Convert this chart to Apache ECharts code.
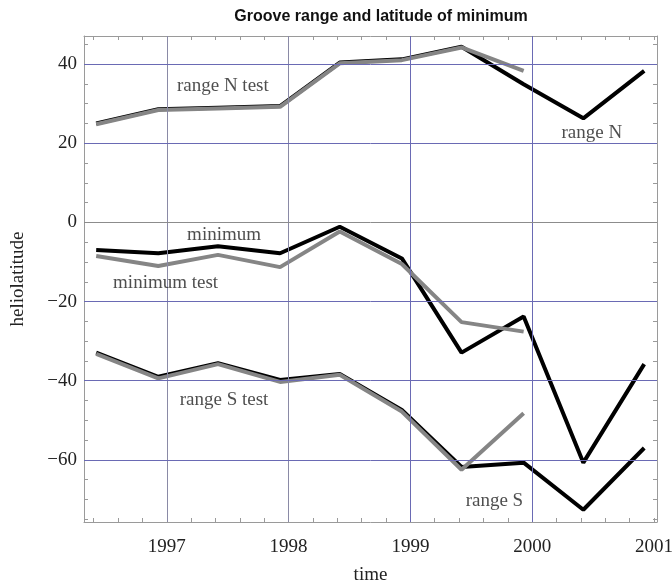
<!DOCTYPE html>
<html>
<head>
<meta charset="utf-8">
<script src="https://cdn.jsdelivr.net/npm/echarts@6/dist/echarts.min.js"></script>
<style>
  html, body { margin: 0; padding: 0; background: #fff; }
  #groove { width: 672px; height: 583px; }
</style>
</head>
<body>
<div id="groove"></div>
<script>
// sample times (years) and values
var times = [1996.42, 1996.93, 1997.42, 1997.93, 1998.42, 1998.93, 1999.42, 1999.93, 2000.42, 2000.92];
var rangeN = [25.0, 28.6, 29.0, 29.4, 40.4, 41.2, 44.4, 34.9, 26.3, 38.3];
var rangeNTest = [24.8, 28.4, 28.8, 29.2, 40.2, 41.0, 44.2, 38.3];
var minimum = [-7.0, -7.8, -6.0, -7.8, -1.1, -9.1, -32.9, -23.8, -60.7, -35.8];
var minimumTest = [-8.5, -11.0, -8.2, -11.3, -2.3, -10.5, -25.2, -27.6];
var rangeS = [-32.9, -39.0, -35.6, -39.8, -38.3, -47.4, -61.8, -60.7, -72.6, -57.0];
var rangeSTest = [-33.2, -39.4, -35.8, -40.3, -38.5, -47.8, -62.5, -48.2];

var yearLabels = [1997, 1998, 1999, 2000, 2001];
var latLabels = [-60, -40, -20, 0, 20, 40];

// curve captions, placed in data coords
var notes = [
    ['range N test', 1997.46, 34.4],
    ['range N', 2000.49, 22.6],
    ['minimum', 1997.47, -3.3],
    ['minimum test', 1996.99, -15.3],
    ['range S test', 1997.47, -45.0],
    ['range S', 1999.69, -70.5]
];

var xMin = 1996.32, xMax = 2001.025;
var yMin = -75.7, yMax = 47.1;

function pairs(vals) {
    return vals.map(function (v, i) { return [times[i], v]; });
}

var xTicks = [];
for (var t = 1996.4; t <= 2001.01; t += 0.2) xTicks.push(Math.round(t * 10) / 10);
var yTicks = [];
for (var v = -75; v <= 45; v += 5) yTicks.push(v);

var serif = 'Liberation Serif, serif';
var frame = { show: true, onZero: false, lineStyle: { color: '#9a9a9a', width: 1 } };

function tickStyle(vals) {
    return { show: true, inside: true, length: 4, customValues: vals, lineStyle: { color: '#9a9a9a' } };
}

var gridLines = [];
yearLabels.slice(0, 4).forEach(function (y) {
    gridLines.push({ xAxis: y, lineStyle: { color: y < 1999 ? '#8a8aa6' : '#6a6ab4' } });
});
latLabels.forEach(function (l) {
    gridLines.push({ yAxis: l, lineStyle: { color: l === 0 ? '#8c8c8c' : '#6a6ab4' } });
});

var chart = echarts.init(document.getElementById('groove'));
var option = {
    animation: false,
    title: {
        text: 'Groove range and latitude of minimum',
        left: 376,
        textAlign: 'center',
        top: 4,
        textStyle: {
            fontFamily: 'Liberation Sans, Arial, sans-serif',
            fontWeight: 'bold',
            fontSize: 16,
            color: '#111'
        }
    },
    grid: {
        left: 84,
        right: 15,
        top: 36,
        bottom: 61,
        outerBoundsMode: 'none'
    },
    xAxis: [
        {
            type: 'value',
            min: xMin,
            max: xMax,
            name: 'time',
            nameLocation: 'middle',
            nameGap: 44,
            nameTextStyle: { fontFamily: serif, fontSize: 19, color: '#222' },
            axisLine: frame,
            axisTick: tickStyle(xTicks),
            axisLabel: {
                customValues: yearLabels,
                margin: 16,
                fontFamily: serif,
                fontSize: 19,
                color: '#222',
                formatter: function (v) { return String(Math.round(v)); }
            },
            splitLine: { show: false }
        },
        {
            type: 'value',
            position: 'top',
            min: xMin,
            max: xMax,
            axisLine: frame,
            axisTick: tickStyle(xTicks),
            axisLabel: { show: false },
            splitLine: { show: false }
        }
    ],
    yAxis: [
        {
            type: 'value',
            min: yMin,
            max: yMax,
            name: 'heliolatitude',
            nameLocation: 'middle',
            nameGap: 56,
            nameTextStyle: { fontFamily: serif, fontSize: 19, color: '#222' },
            axisLine: frame,
            axisTick: tickStyle(yTicks),
            axisLabel: {
                customValues: latLabels,
                margin: 7,
                fontFamily: serif,
                fontSize: 19,
                color: '#222',
                formatter: function (v) { return v < 0 ? '\u2212' + (-v) : String(v); }
            },
            splitLine: { show: false }
        },
        {
            type: 'value',
            position: 'right',
            min: yMin,
            max: yMax,
            axisLine: frame,
            axisTick: tickStyle(yTicks),
            axisLabel: { show: false },
            splitLine: { show: false }
        }
    ],
    series: [
        {
            name: 'grid',
            type: 'line',
            data: [],
            z: 1,
            silent: true,
            markLine: {
                silent: true,
                symbol: 'none',
                label: { show: false },
                lineStyle: { color: '#6a6ab4', width: 1, type: 'solid' },
                data: gridLines
            }
        },
        { name: 'range N', type: 'line', data: pairs(rangeN), showSymbol: false, z: 3, lineStyle: { color: '#000', width: 4 } },
        { name: 'minimum', type: 'line', data: pairs(minimum), showSymbol: false, z: 3, lineStyle: { color: '#000', width: 4 } },
        { name: 'range S', type: 'line', data: pairs(rangeS), showSymbol: false, z: 3, lineStyle: { color: '#000', width: 4 } },
        { name: 'range N test', type: 'line', data: pairs(rangeNTest), showSymbol: false, z: 4, lineStyle: { color: '#858585', width: 4 } },
        { name: 'minimum test', type: 'line', data: pairs(minimumTest), showSymbol: false, z: 4, lineStyle: { color: '#858585', width: 4 } },
        { name: 'range S test', type: 'line', data: pairs(rangeSTest), showSymbol: false, z: 4, lineStyle: { color: '#858585', width: 4 } },
        {
            name: 'notes',
            type: 'scatter',
            symbolSize: 0,
            z: 5,
            silent: true,
            data: notes.map(function (n) { return { value: [n[1], n[2]], name: n[0] }; }),
            label: {
                show: true,
                position: 'inside',
                formatter: '{b}',
                fontFamily: serif,
                fontSize: 19,
                color: '#222'
            }
        }
    ]
};
chart.setOption(option);
window.addEventListener('resize', function () {
    chart.resize();
});
</script>
</body>
</html>
